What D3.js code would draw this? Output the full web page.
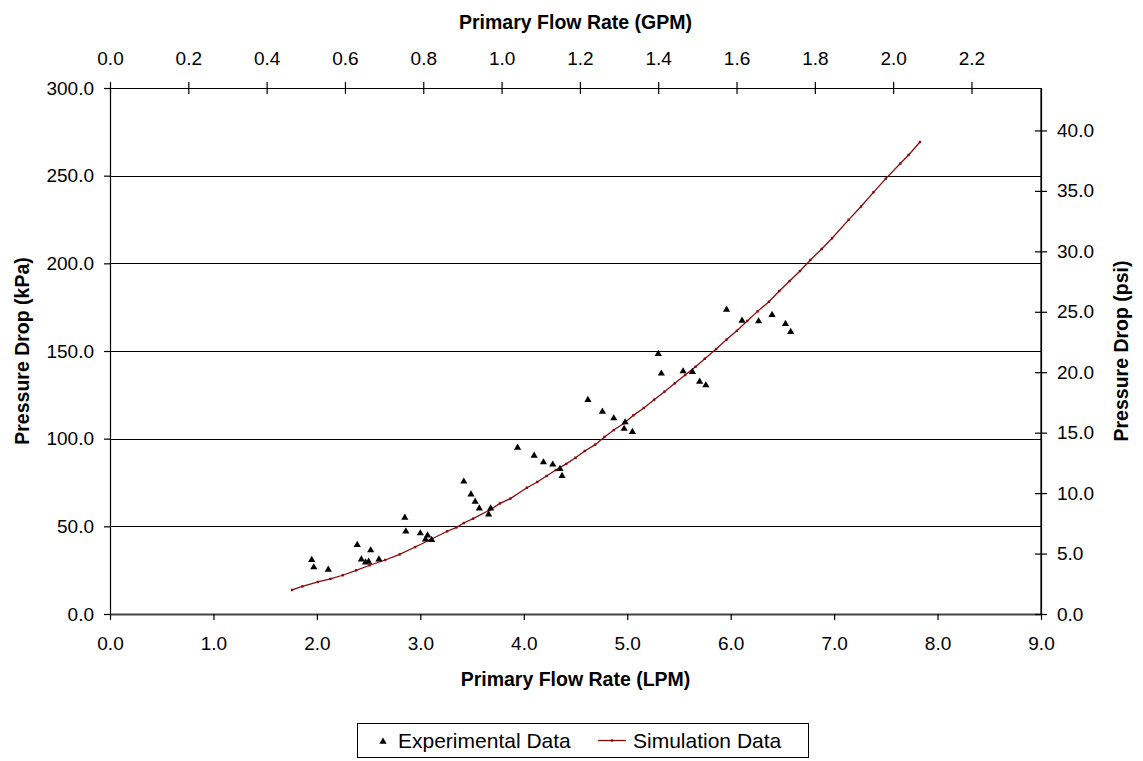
<!DOCTYPE html>
<html>
<head>
<meta charset="utf-8">
<script src="https://cdn.jsdelivr.net/npm/d3@7"></script>
<style>
  html, body { margin: 0; padding: 0; background: #fff; }
  svg text { font-family: Arial, "Liberation Sans", sans-serif; fill: #000; }
</style>
</head>
<body>
<svg id="chart" width="1143" height="761"></svg>
<script>
// Measured pressure drop (kPa) against primary flow rate (LPM)
const expFlow = [1.95, 1.97, 2.11, 2.39, 2.43, 2.47, 2.50, 2.52, 2.60, 2.85, 2.86, 3.00, 3.05, 3.07, 3.11,
  3.42, 3.49, 3.53, 3.57, 3.66, 3.68, 3.94, 4.10, 4.19, 4.28, 4.35, 4.37, 4.62, 4.76, 4.87, 4.97, 4.98,
  5.05, 5.30, 5.33, 5.54, 5.63, 5.70, 5.76, 5.96, 6.11, 6.27, 6.40, 6.53, 6.58];
const expDrop = [31.2, 27.0, 25.7, 39.8, 31.5, 29.8, 30.2, 36.7, 31.5, 55.3, 47.5, 46.4, 42.9, 45.2, 42.6,
  75.9, 68.6, 64.4, 60.6, 57.2, 60.6, 95.2, 90.7, 86.9, 85.6, 83.1, 79.1, 122.5, 115.8, 112.0, 106.0, 109.7,
  104.2, 148.7, 137.5, 138.8, 138.4, 132.9, 130.8, 173.9, 167.7, 167.3, 170.9, 165.8, 161.2];

// Simulated pressure drop (kPa) against primary flow rate (LPM)
const simFlow = [1.76, 1.86, 2.01, 2.13, 2.25, 2.38, 2.51, 2.66, 2.80, 2.95, 3.09, 3.26, 3.35, 3.42, 3.51,
  3.67, 3.77, 3.87, 4.03, 4.13, 4.22, 4.31, 4.41, 4.50, 4.59, 4.69, 4.78, 4.87, 4.97, 5.06, 5.16, 5.26,
  5.36, 5.46, 5.56, 5.66, 5.75, 5.86, 5.96, 6.06, 6.16, 6.26, 6.37, 6.47, 6.57, 6.67, 6.77, 6.88, 6.98,
  7.14, 7.26, 7.38, 7.50, 7.64, 7.72, 7.83];
const simDrop = [13.7, 15.8, 18.3, 20.0, 22.1, 24.9, 27.8, 30.8, 34.0, 38.2, 42.2, 47.2, 49.4, 51.9, 54.4,
  59.3, 63.1, 65.8, 72.0, 75.3, 78.7, 82.1, 85.6, 89.1, 93.0, 96.6, 101.0, 104.9, 108.8, 113.3, 117.5, 122.2,
  126.8, 131.6, 136.3, 141.0, 145.6, 151.1, 156.5, 161.5, 167.1, 172.6, 178.1, 184.2, 189.9, 195.6, 201.9, 208.2, 214.3,
  224.8, 232.4, 240.5, 248.3, 256.9, 261.8, 269.2];

// Axis tick values
const lpmTicks = [0, 1, 2, 3, 4, 5, 6, 7, 8, 9];
const gpmTicks = [0, 0.2, 0.4, 0.6, 0.8, 1.0, 1.2, 1.4, 1.6, 1.8, 2.0, 2.2];
const kpaTicks = [0, 50, 100, 150, 200, 250, 300];
const psiTicks = [0, 5, 10, 15, 20, 25, 30, 35, 40];

const LPM_PER_GPM = 3.785411784;
const KPA_PER_PSI = 6.894757;

const svg = d3.select("#chart");
const plotLeft = 110, plotRight = 1041, plotTop = 88, plotBottom = 614;

const x = d3.scaleLinear().domain([0, 9]).range([plotLeft, plotRight]);
const y = d3.scaleLinear().domain([0, 300]).range([plotBottom, plotTop]);
const xTop = d3.scaleLinear().domain([0, 9 / LPM_PER_GPM]).range([plotLeft, plotRight]);
const yRight = d3.scaleLinear().domain([0, 300 / KPA_PER_PSI]).range([plotBottom, plotTop]);

const fmt = d3.format(".1f");
const tickFont = 19;

// Horizontal gridlines
svg.append("g").selectAll("line")
  .data(kpaTicks.filter(v => v > 0 && v < 300))
  .join("line")
  .attr("x1", plotLeft).attr("x2", plotRight)
  .attr("y1", d => Math.round(y(d)) + 0.5).attr("y2", d => Math.round(y(d)) + 0.5)
  .attr("stroke", "#000").attr("stroke-width", 1);

function styleAxis(g) {
  g.selectAll("path.domain").attr("stroke", "#000").attr("stroke-width", 1.2);
  g.selectAll(".tick line").attr("stroke", "#000").attr("stroke-width", 1.2);
  g.selectAll("text").attr("font-size", tickFont).attr("font-family", "Arial, 'Liberation Sans', sans-serif").attr("fill", "#000");
}

// Bottom axis (LPM)
svg.append("g")
  .attr("transform", `translate(0,${plotBottom})`)
  .call(d3.axisBottom(x).tickValues(lpmTicks).tickFormat(fmt).tickSizeInner(6).tickSizeOuter(0).tickPadding(17))
  .call(styleAxis)
  .call(g => g.selectAll("path.domain").attr("stroke", "#444").attr("stroke-width", 2));

// Top axis (GPM), ticks cross the axis line
svg.append("g")
  .attr("transform", `translate(0,${plotTop})`)
  .call(d3.axisTop(xTop).tickValues(gpmTicks).tickFormat(fmt).tickSizeInner(6).tickSizeOuter(0).tickPadding(17))
  .call(styleAxis)
  .call(g => g.selectAll(".tick line").attr("y1", 6));

// Left axis (kPa)
svg.append("g")
  .attr("transform", `translate(${plotLeft},0)`)
  .call(d3.axisLeft(y).tickValues(kpaTicks).tickFormat(fmt).tickSizeInner(6).tickSizeOuter(0).tickPadding(10))
  .call(styleAxis);

// Right axis (psi), ticks cross the axis line
svg.append("g")
  .attr("transform", `translate(${plotRight},0)`)
  .call(d3.axisRight(yRight).tickValues(psiTicks).tickFormat(fmt).tickSizeInner(6).tickSizeOuter(0).tickPadding(10))
  .call(styleAxis)
  .call(g => g.selectAll(".tick line").attr("x1", -6));

// Closing edge of the plot frame
svg.append("line").attr("x1", plotRight).attr("x2", plotRight).attr("y1", plotTop).attr("y2", plotBottom)
  .attr("stroke", "#000").attr("stroke-width", 1.2);

// Simulation curve with small point markers
const simColor = "#8b0a0a";
const simPts = simFlow.map((f, i) => [f, simDrop[i]]);
svg.append("path")
  .datum(simPts)
  .attr("fill", "none")
  .attr("stroke", simColor)
  .attr("stroke-width", 1.3)
  .attr("d", d3.line().x(d => x(d[0])).y(d => y(d[1])));
svg.append("g").selectAll("rect")
  .data(simPts)
  .join("rect")
  .attr("x", d => x(d[0]) - 1.2).attr("y", d => y(d[1]) - 1.2)
  .attr("width", 2.4).attr("height", 2.4)
  .attr("fill", simColor);

// Experimental points as triangles
const tri = "M0,-3.5L3.6,2.7L-3.6,2.7Z";
svg.append("g").selectAll("path")
  .data(expFlow.map((f, i) => [f, expDrop[i]]))
  .join("path")
  .attr("d", tri)
  .attr("transform", d => `translate(${x(d[0])},${y(d[1])})`)
  .attr("fill", "#000");

// Axis titles
const titleFont = 19.5;
svg.append("text").attr("x", (plotLeft + plotRight) / 2).attr("y", 686)
  .attr("text-anchor", "middle").attr("font-weight", "bold").attr("font-size", titleFont)
  .text("Primary Flow Rate (LPM)");
svg.append("text").attr("x", (plotLeft + plotRight) / 2).attr("y", 29)
  .attr("text-anchor", "middle").attr("font-weight", "bold").attr("font-size", titleFont)
  .text("Primary Flow Rate (GPM)");
svg.append("text")
  .attr("transform", `translate(29,${(plotTop + plotBottom) / 2}) rotate(-90)`)
  .attr("text-anchor", "middle").attr("font-weight", "bold").attr("font-size", titleFont)
  .text("Pressure Drop (kPa)");
svg.append("text")
  .attr("transform", `translate(1128,${(plotTop + plotBottom) / 2}) rotate(-90)`)
  .attr("text-anchor", "middle").attr("font-weight", "bold").attr("font-size", titleFont)
  .text("Pressure Drop (psi)");

// Legend
const legend = svg.append("g");
legend.append("rect").attr("x", 357.5).attr("y", 723.5).attr("width", 451).attr("height", 34)
  .attr("fill", "#fff").attr("stroke", "#000").attr("stroke-width", 1);
legend.append("path").attr("d", tri).attr("transform", "translate(383,741)").attr("fill", "#000");
legend.append("text").attr("x", 398).attr("y", 748).attr("font-size", 21).text("Experimental Data");
legend.append("line").attr("x1", 598).attr("x2", 626).attr("y1", 740.5).attr("y2", 740.5)
  .attr("stroke", simColor).attr("stroke-width", 1.3);
legend.append("rect").attr("x", 610.8).attr("y", 739.3).attr("width", 2.4).attr("height", 2.4).attr("fill", simColor);
legend.append("text").attr("x", 633).attr("y", 748).attr("font-size", 21).text("Simulation Data");
</script>
</body>
</html>
